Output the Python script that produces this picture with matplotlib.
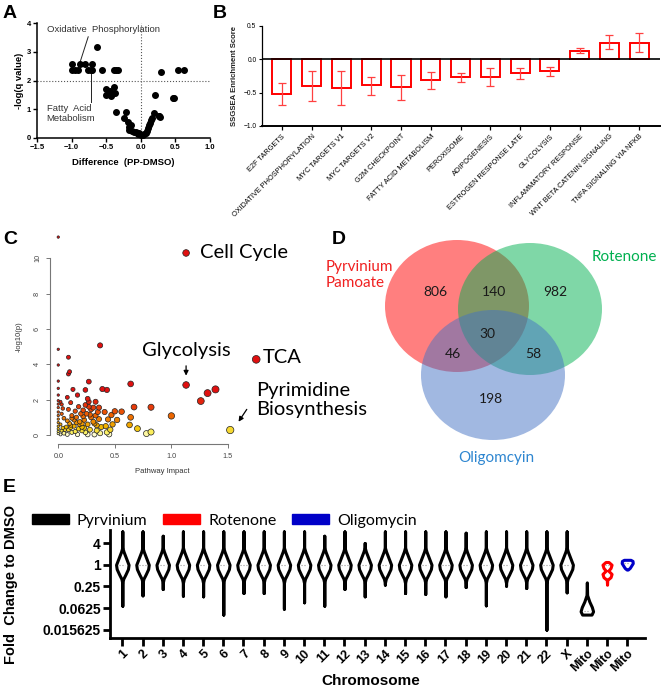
import matplotlib
matplotlib.use('Agg')
import matplotlib.pyplot as plt
from matplotlib.patches import Ellipse, Patch
from matplotlib.colors import LinearSegmentedColormap, Normalize
import numpy as np

# ---------------- data ----------------
# A: volcano of pathway differences
a_diff = [-1.0, -1.0, -0.95, -0.91, -0.88, -0.81, -0.77, -0.72, -0.71, -0.71, -0.63, -0.56,
          -0.39, -0.36, -0.33, -0.51, -0.51, -0.45, -0.43, -0.39, -0.37, -0.41, -0.36,
          -0.22, -0.25, -0.18, -0.17, -0.17, -0.14, -0.12, -0.10, -0.07, -0.04, -0.02,
          0.01, 0.03, 0.05, 0.07, 0.09, 0.11, 0.12, 0.13, 0.15, 0.16, 0.19, 0.20,
          0.26, 0.28, 0.27, 0.29, 0.46, 0.48, 0.54, 0.63]
a_logq = [2.59, 2.36, 2.36, 2.36, 2.59, 2.59, 2.36, 2.36, 2.59, 2.36, 3.17, 2.36,
          2.36, 2.36, 2.36, 1.69, 1.48, 1.63, 1.46, 1.79, 1.58, 1.52, 0.90,
          0.90, 0.70, 0.55, 0.39, 0.29, 0.45, 0.25, 0.22, 0.20, 0.15, 0.17,
          0.12, 0.10, 0.14, 0.18, 0.26, 0.35, 0.45, 0.53, 0.62, 0.70, 0.88, 1.48,
          0.76, 0.74, 0.78, 2.30, 1.38, 1.40, 2.36, 2.36]

# B: ssGSEA enrichment
b_sets = ['E2F TARGETS', 'OXIDATIVE PHOSPHORYLATION', 'MYC TARGETS V1', 'MYC TARGETS V2',
          'G2M CHECKPOINT', 'FATTY ACID METABOLISM', 'PEROXISOME', 'ADIPOGENESIS',
          'ESTROGEN RESPONSE LATE', 'GLYCOLYSIS', 'INFLAMMATORY RESPONSE',
          'WNT BETA CATENIN SIGNALING', 'TNFA SIGNALING VIA NFKB']
b_score = [-0.52, -0.40, -0.43, -0.38, -0.41, -0.31, -0.27, -0.26, -0.21, -0.18, 0.12, 0.25, 0.25]
b_low = [-0.69, -0.63, -0.69, -0.54, -0.61, -0.44, -0.34, -0.40, -0.30, -0.25, 0.09, 0.15, 0.11]
b_high = [-0.36, -0.17, -0.18, -0.26, -0.24, -0.19, -0.21, -0.13, -0.13, -0.12, 0.17, 0.37, 0.40]

# C: pathway impact vs -log10(p)
c_impact = [0.00, 1.13, 1.75, 1.13, 1.26, 1.32, 1.39, 1.52,
            0.37, 0.64, 0.67, 0.82, 1.00, 0.64, 0.63, 0.70, 0.78, 0.82, 0.56, 0.50, 0.52, 0.47,
            0.39, 0.43, 0.27, 0.09, 0.10, 0.09,
            0.00, 0.00, 0.00, 0.00, 0.00, 0.00, 0.00, 0.00, 0.00, 0.00, 0.00, 0.00, 0.00, 0.00, 0.00, 0.00,
            0.02, 0.03, 0.04, 0.03, 0.05, 0.02, 0.04, 0.03, 0.05, 0.02,
            0.08, 0.11, 0.09, 0.12, 0.08, 0.11, 0.09, 0.12, 0.08, 0.10, 0.07,
            0.13, 0.17, 0.18, 0.15, 0.16, 0.19, 0.14, 0.18, 0.15, 0.17, 0.20, 0.14,
            0.24, 0.26, 0.27, 0.24, 0.27, 0.22, 0.25, 0.29, 0.23, 0.26, 0.21, 0.28, 0.24, 0.26, 0.22, 0.29, 0.21,
            0.33, 0.31, 0.35, 0.33, 0.36, 0.32, 0.38, 0.34, 0.37, 0.32, 0.36,
            0.44, 0.42, 0.46, 0.43, 0.45, 0.48, 0.41,
            0.06, 0.12, 0.19, 0.23, 0.28, 0.31, 0.16, 0.21, 0.34, 0.11]
c_logp = [11.2, 10.3, 4.28, 2.83, 1.92, 2.37, 2.58, 0.28,
          5.07, 2.89, 1.58, 1.57, 1.08, 1.00, 0.57, 0.36, 0.08, 0.17, 1.32, 1.34, 0.85, 1.13,
          2.60, 2.55, 3.02, 4.40, 3.58, 3.45,
          4.85, 3.96, 3.05, 2.64, 2.26, 1.94, 1.75, 1.55, 1.30, 1.10, 0.90, 0.70, 0.50, 0.35, 0.20, 0.08,
          1.88, 1.73, 1.50, 1.20, 0.95, 0.60, 0.40, 0.25, 0.10, 0.03,
          2.13, 1.83, 1.45, 1.10, 0.80, 0.55, 0.30, 0.15, 0.03, 0.65, 0.45,
          2.58, 2.26, 1.60, 1.35, 1.00, 0.75, 0.50, 0.35, 0.20, 0.03, 1.20, 0.85,
          2.55, 2.05, 1.88, 1.70, 1.60, 1.40, 1.20, 1.00, 0.85, 0.60, 0.45, 0.30, 0.15, 0.03, 1.05, 1.45, 0.65,
          1.88, 1.55, 1.30, 1.10, 0.90, 0.65, 0.45, 0.25, 0.10, 0.03, 1.55,
          0.88, 0.50, 0.30, 0.15, 0.04, 0.60, 1.30,
          0.30, 0.95, 0.60, 0.40, 1.15, 0.75, 0.70, 0.25, 0.55, 0.42]

# D: Venn counts
venn_counts = {'P': 806, 'PR': 140, 'R': 982, 'PRO': 30, 'PO': 46, 'RO': 58, 'O': 198}
venn_sets = ['Pyrvinium\nPamoate', 'Rotenone', 'Oligomcyin']

# E: fold change per chromosome (log2 extents of each violin)
chrom = [str(i) for i in range(1, 23)] + ['X']
chrom_hi = [3.07, 3.07, 2.67, 3.07, 3.07, 3.07, 3.07, 3.07, 3.07, 3.07, 2.67, 3.07,
            2.00, 3.07, 3.07, 3.07, 3.07, 2.95, 3.07, 3.07, 3.07, 3.07, 3.07]
chrom_lo = [-3.78, -2.83, -2.24, -2.86, -2.92, -4.60, -2.61, -2.61, -4.06, -3.47, -3.78, -2.24,
            -2.92, -1.84, -2.61, -2.70, -2.92, -2.06, -3.75, -1.94, -2.15, -5.99, -2.55]
body_off = [1.6, 1.2, 0.6, 0.0, -0.4, -0.9, -1.3, -1.7]
body_den = [0.0, 0.2, 0.6, 1.0, 0.9, 0.5, 0.15, 0.0]
mito_pyr_off = [-1.63, -2.8, -3.4, -3.9, -4.3, -4.6]
mito_pyr_den = [0.0, 0.05, 0.4, 0.8, 1.0, 0.75]
mito_rot_off = [0.25, 0.0, -0.3, -0.55, -0.85, -1.15, -1.4, -1.85]
mito_rot_den = [0.3, 0.9, 0.7, 0.25, 0.9, 0.7, 0.05, 0.0]
mito_oli_off = [0.45, 0.35, 0.15, -0.1, -0.3, -0.45]
mito_oli_den = [0.6, 0.95, 1.0, 0.7, 0.45, 0.1]
treatments = ['Pyrvinium', 'Rotenone', 'Oligomycin']
treat_colors = ['black', '#FF0000', '#0000C8']

# ---------------- layout ----------------
W, H = 663, 690
fig = plt.figure(figsize=(W / 100, H / 100), dpi=100)
plt.rcParams['font.family'] = 'Liberation Sans'


def add_px(l, t, r, b):
    return fig.add_axes([l / W, 1 - b / H, (r - l) / W, (b - t) / H])


for lab, x, y in [('A', 3, 14), ('B', 213, 14), ('C', 3, 240), ('D', 332, 240), ('E', 3, 488)]:
    fig.text(x / W, 1 - y / H, lab, fontsize=14, fontweight='bold', va='center', ha='left')

# ---- A ----
ax = add_px(37, 23, 210, 138)
ax.scatter(a_diff, a_logq, s=16, color='black', zorder=3)
ax.axhline(2, color='#555', ls=':', lw=0.8)
ax.axvline(0, color='#555', ls=':', lw=0.8)
ax.set_xlim(-1.5, 1.0)
ax.set_ylim(0, 4)
ax.set_xticks([-1.5, -1.0, -0.5, 0.0, 0.5, 1.0])
ax.set_yticks([0, 1, 2, 3, 4])
for s in ['top', 'right']:
    ax.spines[s].set_visible(False)
for s in ['left', 'bottom']:
    ax.spines[s].set_linewidth(1.1)
ax.tick_params(labelsize=5.5, length=3, width=1, pad=1.5)
for t in ax.get_xticklabels() + ax.get_yticklabels():
    t.set_fontweight('bold')
ax.set_xlabel('Difference  (PP-DMSO)', fontsize=6.8, fontweight='bold', labelpad=5)
ax.set_ylabel('-log(q value)', fontsize=6.8, fontweight='bold', labelpad=2)
ax.text(-1.36, 3.76, 'Oxidative  Phosphorylation', fontsize=6.8, color='#333', va='center')
ax.plot([-0.76, -0.88], [3.52, 2.62], color='#222', lw=0.7)
ax.text(-1.36, 0.85, 'Fatty  Acid\nMetabolism', fontsize=6.8, color='#333', va='center',
        linespacing=1.25)
ax.plot([-0.72, -0.72], [1.26, 2.33], color='#222', lw=0.7)

# ---- B ----
ax = add_px(262, 26, 660, 126)
xb = np.arange(len(b_sets))
score = np.array(b_score)
yerr = [score - np.array(b_low), np.array(b_high) - score]
ax.bar(xb, score, width=0.64, facecolor='white', edgecolor='#FF0000', lw=1.4, zorder=2)
ax.errorbar(xb, score, yerr=yerr, fmt='none', ecolor='#FF4040', elinewidth=0.9,
            capsize=3.2, capthick=0.9, zorder=3)
ax.axhline(0, color='black', lw=1.2, zorder=4)
ax.set_xlim(-0.67, 12.7)
ax.set_ylim(-1.0, 0.5)
ax.set_yticks([-1.0, -0.5, 0.0, 0.5])
ax.set_xticks(xb)
ax.set_xticklabels(b_sets, rotation=45, ha='right', rotation_mode='anchor', fontsize=5.3)
for s in ['top', 'right']:
    ax.spines[s].set_visible(False)
ax.spines['left'].set_linewidth(0.9)
ax.spines['bottom'].set_linewidth(1.4)
ax.tick_params(axis='y', labelsize=4.8, length=2.5, width=0.8, pad=1.5)
ax.tick_params(axis='x', length=3, width=0.9, pad=2)
ax.set_ylabel('SSGSEA Enrichment Score', fontsize=5.6, fontweight='bold', labelpad=4,
              color='#222')

# ---- C ----
ax = add_px(50, 230, 275, 444)
ci = np.array(c_impact)
cp = np.array(c_logp)
heat = LinearSegmentedColormap.from_list(
    'heat', [(0.0, '#FFFFE6'), (0.07, '#FBF060'), (0.18, '#F2C000'), (0.32, '#EF9000'),
             (0.5, '#EC6400'), (0.72, '#E63A0A'), (1.0, '#E01010')])
diam = np.interp(ci, [0, 0.05, 0.3, 0.7, 1.8], [2.4, 3.8, 5.0, 5.9, 7.8]) * 0.72
order = np.argsort(cp)
ax.scatter(ci[order], cp[order], s=diam[order] ** 2, c=cp[order], cmap=heat,
           norm=Normalize(0, 2.2), edgecolors='#222', linewidths=0.5, zorder=3)
ax.set_xlim(-0.073, 1.916)
ax.set_ylim(-0.51, 11.6)
for s in ['top', 'right']:
    ax.spines[s].set_visible(False)
ax.spines['left'].set_bounds(0, 10)
ax.spines['bottom'].set_bounds(0, 1.5)
for s in ['left', 'bottom']:
    ax.spines[s].set_color('#777')
    ax.spines[s].set_linewidth(0.8)
ax.set_xticks([0.0, 0.5, 1.0, 1.5])
ax.set_yticks([0, 2, 4, 6, 8, 10])
ax.tick_params(colors='#777', labelcolor='#444', labelsize=5.2, length=3, width=0.7)
for t in ax.get_yticklabels():
    t.set_rotation(90)
    t.set_va('center')
ax.set_xlabel('Pathway Impact', fontsize=5.5, color='#333', labelpad=6)
ax.set_ylabel('-log10(p)', fontsize=5.5, color='#333', labelpad=8)
ax.text(1.25, 10.35, 'Cell Cycle', fontsize=14.5, family='Lato', va='center')
ax.text(1.81, 4.41, 'TCA', fontsize=14.5, family='Lato', va='center')
ax.text(1.13, 4.8, 'Glycolysis', fontsize=14.5, family='Lato', va='center', ha='center')
ax.annotate('', xy=(1.13, 3.2), xytext=(1.13, 4.07),
            arrowprops=dict(arrowstyle='-|>', color='black', lw=0.9, mutation_scale=7))
ax.text(1.75, 2.0, 'Pyrimidine\nBiosynthesis', fontsize=14.5, family='Lato', va='center',
        linespacing=1.15, clip_on=False)
ax.annotate('', xy=(1.58, 0.62), xytext=(1.68, 1.58),
            arrowprops=dict(arrowstyle='-|>', color='black', lw=0.9, mutation_scale=7))

# ---- D ----
ax = add_px(330, 230, 663, 465)
ax.set_xlim(330, 663)
ax.set_ylim(465, 230)
ax.axis('off')
ax.add_patch(Ellipse((457, 306), 144, 132, facecolor='#FF0000', alpha=0.5, lw=0))
ax.add_patch(Ellipse((530, 309), 144, 132, facecolor='#00B050', alpha=0.5, lw=0))
ax.add_patch(Ellipse((493, 375), 144, 130, facecolor='#4472C4', alpha=0.5, lw=0))
venn_pos = {'P': (435, 292), 'PR': (494, 292), 'R': (555, 292), 'PRO': (487, 334),
            'PO': (453, 354), 'RO': (533, 354), 'O': (491, 399)}
for k, v in venn_counts.items():
    ax.text(*venn_pos[k], str(v), fontsize=10, family='Lato', color='#1a1a1a',
            ha='center', va='center')
ax.text(326, 275, venn_sets[0], fontsize=11, family='Lato', color='#F02020', ha='left',
        va='center', linespacing=1.25)
ax.text(592, 257, venn_sets[1], fontsize=11, family='Lato', color='#00B050', ha='left',
        va='center')
ax.text(496, 458, venn_sets[2], fontsize=11, family='Lato', color='#2E86D0', ha='center',
        va='center')

# ---- E ----
ax = add_px(110, 530, 645, 638)
ax.set_yscale('log', base=2)


def vstat(off, den):
    off = np.asarray(off, float)
    return dict(coords=2.0 ** off, vals=np.asarray(den, float),
                mean=1.0, median=2.0 ** off[np.argmax(den)],
                min=2.0 ** off.min(), max=2.0 ** off.max())


stats = []
for hi, lo in zip(chrom_hi, chrom_lo):
    stats.append(vstat([hi] + body_off + [lo], [0.0] + body_den + [0.0]))
stats.append(vstat(mito_pyr_off, mito_pyr_den))
stats.append(vstat(mito_rot_off, mito_rot_den))
stats.append(vstat(mito_oli_off, mito_oli_den))
pos = np.arange(1, len(stats) + 1)
widths = [0.62] * (len(chrom) + 1) + [0.45, 0.55]
edge = ['black'] * (len(chrom) + 1) + [treat_colors[1], treat_colors[2]]
parts = ax.violin(stats, positions=pos, widths=widths, showextrema=False, showmeans=False,
                  showmedians=True)
for body, ec in zip(parts['bodies'], edge):
    body.set_facecolor('white')
    body.set_edgecolor(ec)
    body.set_linewidth(2.2)
    body.set_alpha(1)
parts['cmedians'].set_color('#999')
parts['cmedians'].set_linestyle(':')
parts['cmedians'].set_linewidth(0.8)

ax.set_xlim(0.39, 26.88)
ax.set_ylim(2 ** -6.76, 2 ** 3.2)
ax.set_yticks([4, 1, 0.25, 0.0625, 0.015625])
ax.set_yticklabels(['4', '1', '0.25', '0.0625', '0.015625'])
ax.minorticks_off()
ax.set_xticks(pos)
ax.set_xticklabels(chrom + ['Mito'] * 3, rotation=45, ha='right', rotation_mode='anchor')
for s in ['top', 'right']:
    ax.spines[s].set_visible(False)
for s in ['left', 'bottom']:
    ax.spines[s].set_linewidth(2.0)
ax.tick_params(axis='y', labelsize=10, length=5, width=2, pad=1.5)
ax.tick_params(axis='x', labelsize=9, length=6, width=2, pad=1)
for t in ax.get_xticklabels() + ax.get_yticklabels():
    t.set_fontweight('bold')
ax.set_xlabel('Chromosome', fontsize=11, fontweight='bold')
ax.xaxis.set_label_coords((371 - 110) / 535, -(674 - 638) / 108)
ax.set_ylabel('Fold  Change to DMSO', fontsize=10.5, fontweight='bold')
ax.yaxis.set_label_coords(-(110 - 18) / 535, 0.5)
handles = [Patch(facecolor=c, edgecolor=c) for c in treat_colors]
ax.legend(handles, treatments, ncol=3, frameon=False, loc='lower left',
          bbox_to_anchor=(32 / W, 1 - 528 / H), bbox_transform=fig.transFigure,
          prop={'family': 'Lato', 'size': 11.5}, handlelength=2.3, handleheight=0.6,
          handletextpad=0.5, columnspacing=1.0, borderpad=0, borderaxespad=0)

fig.savefig('out.png', dpi=100)
